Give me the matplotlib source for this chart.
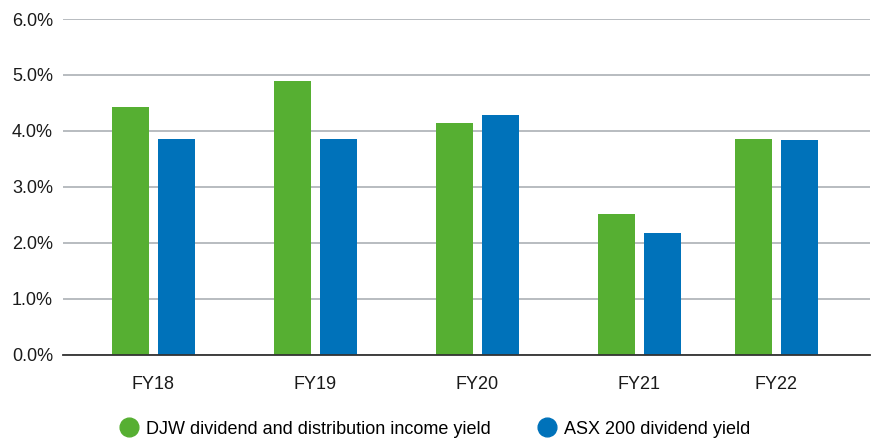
import matplotlib
matplotlib.use("Agg")
import matplotlib.pyplot as plt
from matplotlib.lines import Line2D
import numpy as np

categories = ["FY18", "FY19", "FY20", "FY21", "FY22"]
djw_yield = [4.43, 4.89, 4.15, 2.52, 3.86]
asx_yield = [3.86, 3.86, 4.29, 2.18, 3.84]
series_names = ["DJW dividend and distribution income yield", "ASX 200 dividend yield"]
y_ticks = [0, 1, 2, 3, 4, 5, 6]

# layout (category slot positions, as in the reference's uneven spacing)
slots = np.array([0, 1, 2, 3, 3.843])
green = "#56AF32"
blue = "#0072BA"

plt.rcParams['font.family'] = ['Liberation Sans', 'DejaVu Sans']

fig = plt.figure(figsize=(8.77, 4.41), dpi=100)
ax = fig.add_axes([62.7/877, 1-354.7/441, (870-62.7)/877, (354.7-19)/441])

w = 0.228
off = 0.142
ax.bar(slots - off, djw_yield, width=w, color=green, zorder=3)
ax.bar(slots + off, asx_yield, width=w, color=blue, zorder=3)

ax.set_xlim(-0.5605, 4.423)
ax.set_ylim(0, 6)
ax.set_yticks(y_ticks)
ax.set_yticklabels([f"{v:.1f}%" for v in y_ticks])
ax.set_xticks(slots)
ax.set_xticklabels(categories)
ax.tick_params(axis='both', length=0, labelsize=13, colors="#1a1a1a")
ax.tick_params(axis='y', pad=7)
ax.tick_params(axis='x', pad=15)
for s in ["top", "right", "left"]:
    ax.spines[s].set_visible(False)
ax.spines["bottom"].set_color("#333333")
ax.spines["bottom"].set_linewidth(1.3)
ax.spines["bottom"].set_zorder(4)
ax.yaxis.grid(True, color="#b8bcc0", linewidth=1.4, zorder=0)
ax.set_axisbelow(True)

handles = [Line2D([], [], marker='o', linestyle='', markersize=13.5, color=green),
           Line2D([], [], marker='o', linestyle='', markersize=13.5, color=blue)]
fig.legend(handles, series_names, loc='center', bbox_to_anchor=(435/877, 1-429/441),
           ncol=2, frameon=False, fontsize=13, handletextpad=0.45, columnspacing=2.6,
           handlelength=1.0, borderpad=0)

fig.savefig("out.png", dpi=100)
